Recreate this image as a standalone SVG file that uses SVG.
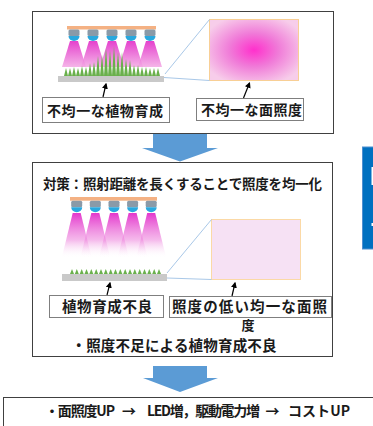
<svg xmlns="http://www.w3.org/2000/svg" width="373" height="426" viewBox="0 0 373 426">
  <style>
    .frame { fill: #ffffff; stroke: #404040; stroke-width: 1; }
    .lbl { fill: #ffffff; stroke: #7f7f7f; stroke-width: 1; }
    .t { font-family: "Noto Sans CJK JP", "Noto Sans", sans-serif; font-weight: bold; fill: #1a1a1a; text-anchor: middle; }
    .bar { fill: #f4b183; }
    .cap { fill: #8a9aa8; }
    .lens { fill: #2aa8de; }
    .base { fill: #c9c9c9; }
    .plant { fill: #6ab04c; }
    .callout { stroke: #a9c8e8; stroke-width: 1; fill: none; }
    .ptr { stroke: #000000; stroke-width: 1.2; fill: none; marker-end: url(#ah); }
    .block { fill: #5b9bd5; }
  </style>
  <defs>
    <marker id="ah" viewBox="0 0 10 10" refX="8" refY="5" markerWidth="5" markerHeight="5" orient="auto">
      <path d="M0,0 L10,5 L0,10 z" fill="#000"/>
    </marker>
    <radialGradient id="hot" cx="0.5" cy="0.5" r="0.6">
      <stop offset="0" stop-color="#ff30cc"/>
      <stop offset="0.45" stop-color="#f07ad8"/>
      <stop offset="1" stop-color="#f7cdea"/>
    </radialGradient>
    <linearGradient id="beamA" x1="0" y1="0" x2="0" y2="1">
      <stop offset="0" stop-color="#e020c4"/>
      <stop offset="1" stop-color="#f3a8e4"/>
    </linearGradient>
    <linearGradient id="beamB" x1="0" y1="0" x2="0" y2="1">
      <stop offset="0" stop-color="#e22cca" stop-opacity="0.95"/>
      <stop offset="0.6" stop-color="#ee8ade" stop-opacity="0.6"/>
      <stop offset="1" stop-color="#ffffff" stop-opacity="0"/>
    </linearGradient>
    <g id="headA">
      <rect x="-5.5" y="0" width="11" height="6.5" rx="1.5" class="cap"/>
      <path d="M-5.5,6.5 A5.5,5 0 0 0 5.5,6.5 z" class="lens"/>
    </g>
    <polygon id="beam1" points="-4,0 4,0 12,26 -12,26" fill="url(#beamA)" opacity="0.85"/>
    <polygon id="beam2" points="-4,0 4,0 15,45 -15,45" fill="url(#beamB)"/>
  </defs>

  <!-- upper panel: short distance -->
  <g id="panel-near">
    <rect class="frame" x="32.5" y="11.5" width="301" height="122"/>
    <g id="beams-near">
      <use href="#beam1" x="74" y="41"/>
      <use href="#beam1" x="93" y="41"/>
      <use href="#beam1" x="112" y="41"/>
      <use href="#beam1" x="131" y="41"/>
      <use href="#beam1" x="150" y="41"/>
    </g>
    <g id="plants-near" class="plant">
      <polygon points="64,76 66,68 68,76"/>
      <polygon points="68,76 70,68 72,76"/>
      <polygon points="72,76 74,67 76,76"/>
      <polygon points="76,76 78,68 80,76"/>
      <polygon points="80,76 82,66 84,76"/>
      <polygon points="84,76 86,67 88,76"/>
      <polygon points="88,76 90,63 92,76"/>
      <polygon points="92,76 94,62 96,76"/>
      <polygon points="96,76 98,56 100,76"/>
      <polygon points="100,76 102,55 104,76"/>
      <polygon points="104,76 106,48 108,76"/>
      <polygon points="108,76 110,50 112,76"/>
      <polygon points="112,76 114,46 116,76"/>
      <polygon points="116,76 118,52 120,76"/>
      <polygon points="120,76 122,52 124,76"/>
      <polygon points="124,76 126,59 128,76"/>
      <polygon points="128,76 130,60 132,76"/>
      <polygon points="132,76 134,65 136,76"/>
      <polygon points="136,76 138,65 140,76"/>
      <polygon points="140,76 142,67 144,76"/>
      <polygon points="144,76 146,67 148,76"/>
      <polygon points="148,76 150,68 152,76"/>
      <polygon points="152,76 154,68 156,76"/>
      <polygon points="156,76 158,68 160,76"/>
    </g>
    <rect class="base" x="58" y="76" width="106" height="6"/>
    <rect class="bar" x="67" y="26" width="89" height="3.5"/>
    <use href="#headA" x="74" y="29.5"/>
    <use href="#headA" x="93" y="29.5"/>
    <use href="#headA" x="112" y="29.5"/>
    <use href="#headA" x="131" y="29.5"/>
    <use href="#headA" x="150" y="29.5"/>
    <rect x="209.5" y="19.5" width="89" height="61" fill="url(#hot)" stroke="#f8cf95" stroke-width="1"/>
  </g>

  <g id="label-uneven-growth">
    <rect class="lbl" x="42.5" y="97.5" width="127" height="25"/>
    <text class="t" x="105" y="116" font-size="14" textLength="116">不均一な植物育成</text>
  </g>
  <g id="label-uneven-light">
    <rect class="lbl" x="196.5" y="98.5" width="107" height="22"/>
    <text class="t" x="251.5" y="114.5" font-size="14" textLength="101">不均一な面照度</text>
  </g>

  <!-- lower panel: long distance -->
  <g id="panel-far">
    <rect class="frame" x="32.5" y="162.5" width="300" height="194"/>
    <text class="t" x="182.5" y="189" font-size="13.5" textLength="279">対策：照射距離を長くすることで照度を均一化</text>
    <g id="beams-far">
      <use href="#beam2" x="76.7" y="213"/>
      <use href="#beam2" x="95.3" y="213"/>
      <use href="#beam2" x="114" y="213"/>
      <use href="#beam2" x="132.6" y="213"/>
      <use href="#beam2" x="151.2" y="213"/>
    </g>
    <rect class="bar" x="70" y="197" width="87" height="3.7"/>
    <use href="#headA" x="76.7" y="200.7"/>
    <use href="#headA" x="95.3" y="200.7"/>
    <use href="#headA" x="114" y="200.7"/>
    <use href="#headA" x="132.6" y="200.7"/>
    <use href="#headA" x="151.2" y="200.7"/>
    <g id="plants-far" class="plant">
      <polygon points="70,274 72,269 74,274"/>
      <polygon points="74.8,274 76.8,269 78.8,274"/>
      <polygon points="79.7,274 81.7,269 83.7,274"/>
      <polygon points="84.5,274 86.5,269 88.5,274"/>
      <polygon points="89.3,274 91.3,269 93.3,274"/>
      <polygon points="94.2,274 96.2,269 98.2,274"/>
      <polygon points="99,274 101,269 103,274"/>
      <polygon points="103.8,274 105.8,269 107.8,274"/>
      <polygon points="108.7,274 110.7,269 112.7,274"/>
      <polygon points="113.5,274 115.5,269 117.5,274"/>
      <polygon points="118.3,274 120.3,269 122.3,274"/>
      <polygon points="123.2,274 125.2,269 127.2,274"/>
      <polygon points="128,274 130,269 132,274"/>
      <polygon points="132.8,274 134.8,269 136.8,274"/>
      <polygon points="137.7,274 139.7,269 141.7,274"/>
      <polygon points="142.5,274 144.5,269 146.5,274"/>
      <polygon points="147.3,274 149.3,269 151.3,274"/>
      <polygon points="152.2,274 154.2,269 156.2,274"/>
      <polygon points="157,274 159,269 161,274"/>
    </g>
    <rect class="base" x="62" y="274" width="105" height="7"/>
    <rect x="211.5" y="219.5" width="89" height="60" fill="#f6e1f4" stroke="#fbd9a6" stroke-width="1"/>
    <text class="t" x="174" y="350.5" font-size="14.5" textLength="205">・照度不足による植物育成不良</text>
  </g>

  <g id="label-poor-growth">
    <rect class="lbl" x="49.5" y="295.5" width="114" height="22"/>
    <text class="t" x="107" y="312" font-size="14.5" textLength="90">植物育成不良</text>
  </g>
  <g id="label-low-light">
    <rect class="lbl" x="169.5" y="296.5" width="162" height="21"/>
    <!-- the label wraps: its last character falls onto a second line -->
    <text class="t" font-size="14.5"><tspan x="249.5" y="312" textLength="155">照度の低い均一な面照</tspan><tspan x="248" y="329.5" font-size="13">度</tspan></text>
  </g>

  <!-- result -->
  <g id="result">
    <rect class="frame" x="3.5" y="397.5" width="380" height="40"/>
    <text class="t" x="80" y="416" font-size="14" textLength="70">・面照度UP</text>
    <text class="t" x="129" y="416" font-size="14" textLength="12">→</text>
    <text class="t" x="203.5" y="416" font-size="14" textLength="113">LED増，駆動電力増</text>
    <text class="t" x="272.5" y="416" font-size="14" textLength="12">→</text>
    <text class="t" x="319" y="416" font-size="14" textLength="62">コストUP</text>
  </g>

  <!-- side tab -->
  <g id="side-tab">
    <rect x="362.5" y="147" width="11" height="102" fill="#0070c0" stroke="#4f8fd0" stroke-width="1"/>
    <rect x="371.5" y="167" width="2" height="18" fill="#ffffff"/>
    <rect x="371.5" y="223" width="2" height="3" fill="#ffffff"/>
  </g>

  <g id="connectors">
    <line class="callout" x1="165" y1="74" x2="209.5" y2="19.5"/>
    <line class="callout" x1="164" y1="77.5" x2="209.5" y2="80.5"/>
    <line class="callout" x1="167" y1="273" x2="211.5" y2="219.5"/>
    <line class="callout" x1="167" y1="278" x2="211.5" y2="279.5"/>
    <line class="ptr" x1="103" y1="97" x2="106" y2="84"/>
    <line class="ptr" x1="243.5" y1="98" x2="249.5" y2="83"/>
    <line class="ptr" x1="107" y1="295" x2="110" y2="283"/>
    <line class="ptr" x1="232" y1="296" x2="235" y2="283"/>
    <polygon class="block" points="153,134 207,134 207,148 218,148 180,161.5 142,148 153,148"/>
    <polygon class="block" points="153,366 207,366 207,378 218,378 180,392 143,378 153,378"/>
  </g>
</svg>
